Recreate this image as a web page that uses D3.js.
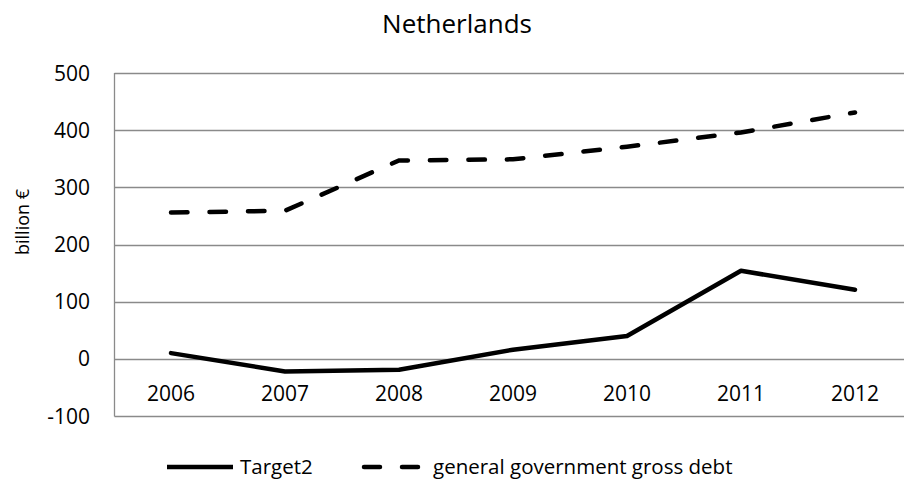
<!DOCTYPE html>
<html><head><meta charset="utf-8">
<script src="https://cdn.jsdelivr.net/npm/d3@7"></script>
<style>body{margin:0;background:#fff}svg{display:block}text{font-family:"Open Sans",sans-serif;fill:#000}</style>
</head><body><svg id="c" width="904" height="483"></svg>
<script>
const years = ["2006","2007","2008","2009","2010","2011","2012"];
const target2 = [10, -22, -19, 16, 40, 154, 121];
const debt = [256, 259, 347, 349, 371, 396, 431];
const yTicks = [-100, 0, 100, 200, 300, 400, 500];
const seriesNames = ["Target2", "general government gross debt"];

const svg = d3.select("#c");
const plotLeft = 114.5, plotTop = 73, plotBottom = 416;
const x = d3.scalePoint().domain(years).range([171, 855]);
const y = d3.scaleLinear().domain([-100, 500]).range([plotBottom, plotTop]);

// gridlines
svg.append("g").selectAll("line").data(yTicks).join("line")
  .attr("x1", plotLeft).attr("x2", 904)
  .attr("y1", d => Math.round(y(d)) + 0.5).attr("y2", d => Math.round(y(d)) + 0.5)
  .attr("stroke", "#8a8a8a").attr("stroke-width", 1.3);
svg.append("line").attr("x1", plotLeft).attr("x2", plotLeft).attr("y1", plotTop).attr("y2", plotBottom + 0.5)
  .attr("stroke", "#8a8a8a").attr("stroke-width", 1.3);

// y tick labels
svg.append("g").selectAll("text").data(yTicks).join("text")
  .attr("x", 90).attr("y", d => y(d)).attr("dy", "0.36em")
  .attr("text-anchor", "end").style("font-size", "21px").text(d => d);

// x labels at zero line
svg.append("g").selectAll("text").data(years).join("text")
  .attr("x", d => x(d)).attr("y", y(0) + 42)
  .attr("text-anchor", "middle").style("font-size", "21px").text(d => d);

// title
svg.append("text").attr("x", 457).attr("y", 33).attr("text-anchor", "middle")
  .style("font-size", "26px").text("Netherlands");

// y label
svg.append("text").attr("transform", "translate(29,222) rotate(-90)")
  .attr("text-anchor", "middle").style("font-size", "18px").text("billion €");

const line = d3.line().x((d, i) => x(years[i])).y(d => y(d));
svg.append("path").datum(target2).attr("d", line).attr("fill", "none")
  .attr("stroke", "#000").attr("stroke-width", 4.5).attr("stroke-linejoin", "round").attr("stroke-linecap", "round");
svg.append("path").datum(debt).attr("d", line).attr("fill", "none")
  .attr("stroke", "#000").attr("stroke-width", 4.5).attr("stroke-linecap", "round")
  .attr("stroke-dasharray", "16.5 22");

// legend
const ly = 467;
svg.append("line").attr("x1", 167).attr("x2", 233).attr("y1", ly).attr("y2", ly)
  .attr("stroke", "#000").attr("stroke-width", 4.5);
svg.append("text").attr("x", 240).attr("y", 474).style("font-size", "20.5px").text(seriesNames[0]);
svg.append("line").attr("x1", 364).attr("x2", 420).attr("y1", ly).attr("y2", ly)
  .attr("stroke", "#000").attr("stroke-width", 4.5).attr("stroke-linecap", "round").attr("stroke-dasharray", "16 22");
svg.append("text").attr("x", 433).attr("y", 474).style("font-size", "20.5px").text(seriesNames[1]);
</script></body></html>
